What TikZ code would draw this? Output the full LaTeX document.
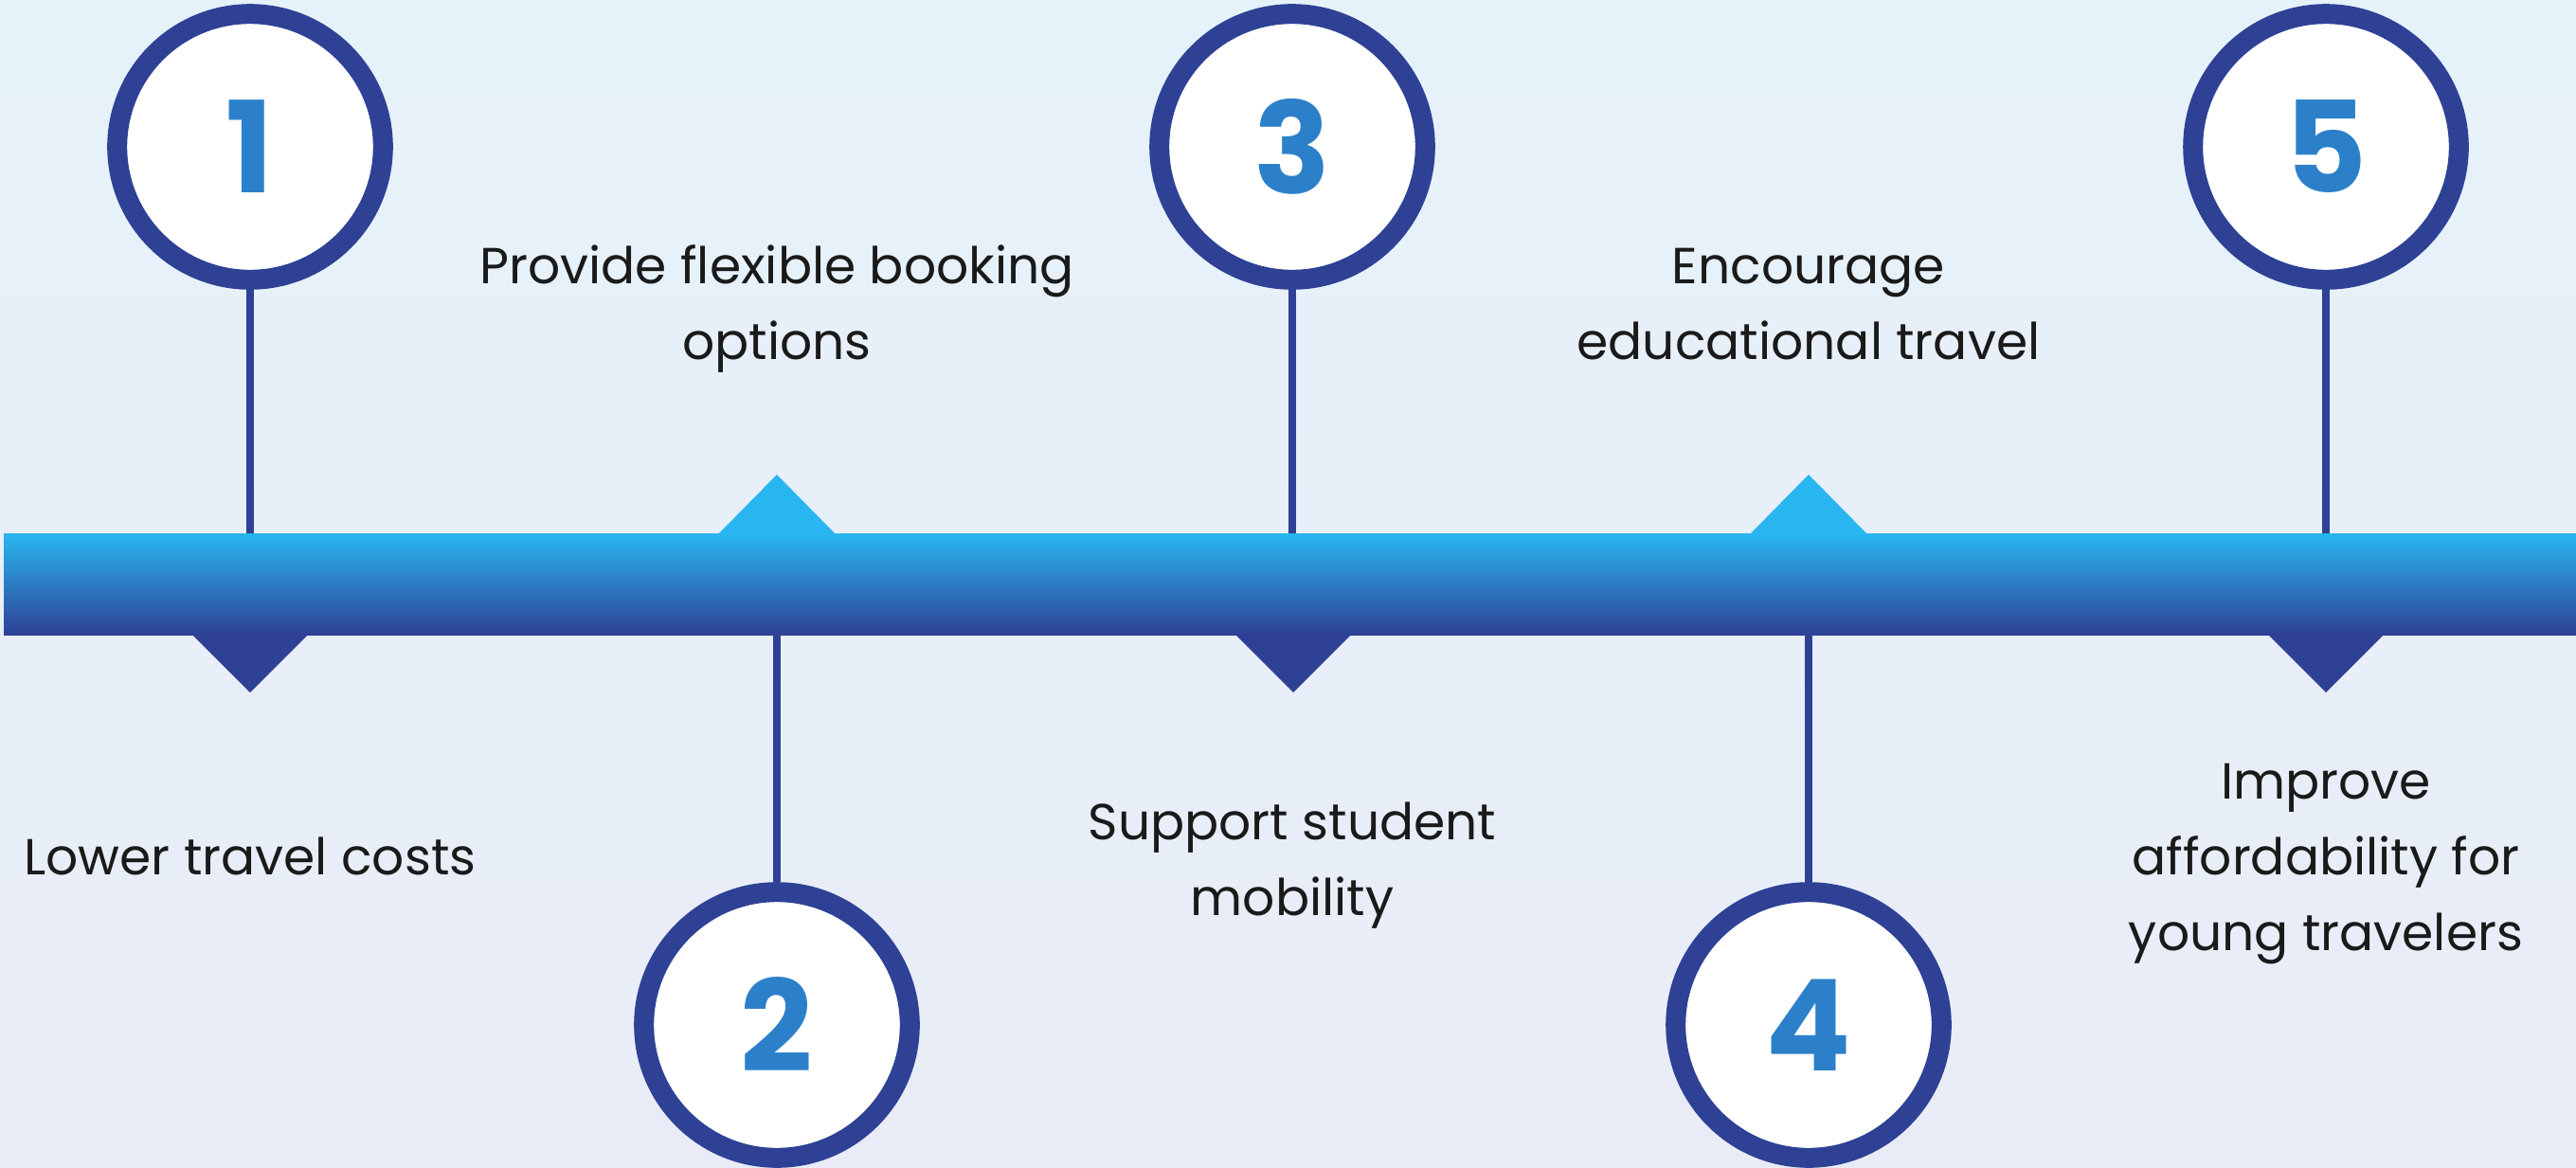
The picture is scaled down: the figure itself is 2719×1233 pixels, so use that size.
\documentclass[tikz,border=0pt]{standalone}
\usepackage{fontspec}
\usetikzlibrary{fadings}
\setmainfont{Poppins}
\definecolor{bgtop}{HTML}{E6F2FA}
\definecolor{bgbot}{HTML}{E9ECF6}
\definecolor{cyanb}{HTML}{29B6F0}
\definecolor{navy}{HTML}{2E4195}
\definecolor{numc}{HTML}{2C80CA}
\definecolor{numtop}{HTML}{2AA2E2}
\definecolor{numbot}{HTML}{2D5CAD}
\definecolor{txt}{HTML}{1A1A1A}
\tikzset{numfont/.style={font=\fontsize{134}{134}\selectfont\bfseries}}
\begin{tikzfadingfrompicture}[name=fdone]
\node[text=transparent!0, numfont, inner sep=0pt] {1};
\end{tikzfadingfrompicture}
\begin{tikzfadingfrompicture}[name=fdtwo]
\node[text=transparent!0, numfont, inner sep=0pt] {2};
\end{tikzfadingfrompicture}
\begin{tikzfadingfrompicture}[name=fdthree]
\node[text=transparent!0, numfont, inner sep=0pt] {3};
\end{tikzfadingfrompicture}
\begin{tikzfadingfrompicture}[name=fdfour]
\node[text=transparent!0, numfont, inner sep=0pt] {4};
\end{tikzfadingfrompicture}
\begin{tikzfadingfrompicture}[name=fdfive]
\node[text=transparent!0, numfont, inner sep=0pt] {5};
\end{tikzfadingfrompicture}
\begin{document}
\begin{tikzpicture}[x=1pt,y=-1pt,
  ring/.style={circle, draw=navy, line width=21pt, fill=white, minimum size=280.6pt, inner sep=0pt, text=numc, numfont},
  conn/.style={navy, line width=8pt},
  lbl/.style={align=center, text=txt, font=\fontsize{53.5}{80}\selectfont, anchor=base, inner sep=0pt},
  uptri/.style={fill=cyanb},
  downtri/.style={fill=navy},
  numshade/.style={top color=numtop, bottom color=numbot, fit fading=false}]
\useasboundingbox (0,0) rectangle (2719,1233);
\shade[top color=bgtop, bottom color=bgbot] (0,0) rectangle (2719,1233);
% band
\shade[top color=cyanb, bottom color=navy] (4,563) rectangle (2719,670);
% triangles
\foreach \x in {264,1365,2455}{
  \fill[downtri] (\x-62,669) -- (\x,731) -- (\x+62,669) -- cycle;
}
\foreach \x in {820,1909}{
  \fill[uptri] (\x-62,564) -- (\x,501) -- (\x+62,564) -- cycle;
}
% anchor coordinates on band
\coordinate (b1) at (264,563);
\coordinate (b2) at (820,670);
\coordinate (b3) at (1364,563);
\coordinate (b4) at (1909,670);
\coordinate (b5) at (2455,563);
% circles
\node[ring] (c1) at (264,155) {1};
\node[ring] (c2) at (820,1082) {2};
\node[ring] (c3) at (1364,155) {3};
\node[ring] (c4) at (1909,1082) {4};
\node[ring] (c5) at (2455,155) {5};
% gradient overlay on digits
\shade[numshade, path fading=fdone]   ([shift={(-70,-52)}]c1.center) rectangle ([shift={(70,52)}]c1.center);
\shade[numshade, path fading=fdtwo]   ([shift={(-70,-52)}]c2.center) rectangle ([shift={(70,52)}]c2.center);
\shade[numshade, path fading=fdthree] ([shift={(-70,-52)}]c3.center) rectangle ([shift={(70,52)}]c3.center);
\shade[numshade, path fading=fdfour]  ([shift={(-70,-52)}]c4.center) rectangle ([shift={(70,52)}]c4.center);
\shade[numshade, path fading=fdfive]  ([shift={(-70,-52)}]c5.center) rectangle ([shift={(70,52)}]c5.center);
% connectors
\draw[conn] (c1.south) -- (b1);
\draw[conn] (c2.north) -- (b2);
\draw[conn] (c3.south) -- (b3);
\draw[conn] (c4.north) -- (b4);
\draw[conn] (c5.south) -- (b5);
% labels (anchor = baseline of last line)
\node[lbl] (t1) at (264,923) {Lower travel costs};
\node[lbl] (t2) at (820,379) {Provide flexible booking\\options};
\node[lbl] (t3) at (1364,966) {Support student\\mobility};
\node[lbl] (t4) at (1909,379) {Encourage\\educational travel};
\node[lbl] (t5) at (2455,1003.5) {Improve\\affordability for\\young travelers};
\end{tikzpicture}
\end{document}
